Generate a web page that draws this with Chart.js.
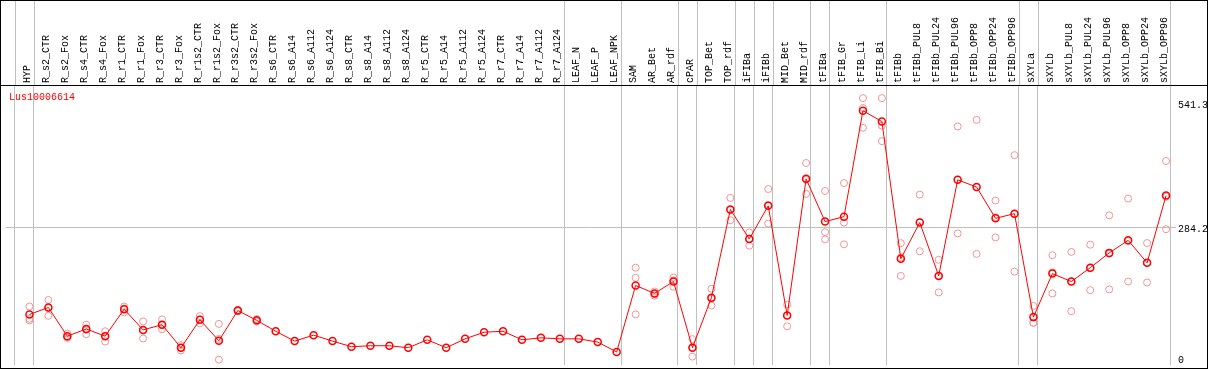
<!DOCTYPE html>
<html>
<head>
<meta charset="utf-8">
<script src="https://cdn.jsdelivr.net/npm/chart.js@4.4.1/dist/chart.umd.min.js"></script>
<style>
  html, body { margin: 0; padding: 0; background: #fff; }
  #wrap { width: 1209px; height: 370px; }
</style>
</head>
<body>
<div id="wrap"><canvas id="chart"></canvas></div>
<script>
// ===== DATA =====
const geneName = 'Lus10006614';

const categories = [
    'HYP', 'R_s2_CTR', 'R_s2_Fox', 'R_s4_CTR', 'R_s4_Fox', 'R_r1_CTR', 'R_r1_Fox', 'R_r3_CTR', 'R_r3_Fox',
    'R_r1s2_CTR', 'R_r1s2_Fox', 'R_r3s2_CTR', 'R_r3s2_Fox', 'R_s6_CTR', 'R_s6_A14', 'R_s6_A112', 'R_s6_A124',
    'R_s8_CTR', 'R_s8_A14', 'R_s8_A112', 'R_s8_A124', 'R_r5_CTR', 'R_r5_A14', 'R_r5_A112', 'R_r5_A124',
    'R_r7_CTR', 'R_r7_A14', 'R_r7_A112', 'R_r7_A124', 'LEAF_N', 'LEAF_P', 'LEAF_NPK', 'SAM', 'AR_Bet', 'AR_rdf',
    'cPAR', 'TOP_Bet', 'TOP_rdf', 'iFIBa', 'iFIBb', 'MID_Bet', 'MID_rdf', 'tFIBa', 'tFIB_Gr', 'tFIB_Li', 'tFIB_Bi',
    'tFIBb', 'tFIBb_PUL8', 'tFIBb_PUL24', 'tFIBb_PUL96', 'tFIBb_OPP8', 'tFIBb_OPP24', 'tFIBb_OPP96',
    'sXYLa', 'sXYLb', 'sXYLb_PUL8', 'sXYLb_PUL24', 'sXYLb_PUL96', 'sXYLb_OPP8', 'sXYLb_OPP24', 'sXYLb_OPP96'
];

// mean expression per sample
const means = [
    103.5, 117.9, 58.6, 73.5, 58.6, 114.4, 71.5, 82.4, 34.7, 92.6, 49, 111.7, 91.3, 68.8, 48.4, 60.7, 48.4,
    36.8, 38.8, 38.8, 34.7, 51.1, 34.7, 53.1, 66.8, 68.8, 51.1, 55.2, 53.1, 53.1, 46.4, 25.9, 163.4, 147.1, 171.6,
    34.7, 138.3, 320.8, 259.5, 328.3, 101.5, 384, 295.6, 305.8, 525, 502.6,
    218.6, 293.6, 183.3, 382, 367.1, 302.4, 312,
    98, 188, 171.6, 200.2, 230.9, 256.8, 210.4, 349.4
];

// individual replicates (null = hidden under the mean)
const rep1 = [
    120, 133.4, 64, 82.4, 68.8, 120, 89.2, 93.3, 40, 100, 84, 113, 94, null, null, null, null,
    null, null, null, null, null, null, null, null, null, null, null, null, null, null, null, 200.2, 151, 179.8,
    52.5, 156.7, 344.6, 273.1, 363, 124, 416.8, 359, 375.3, 551, 551,
    251, 351.4, 216.6, 492.4, 506, 339.1, 433.1,
    121.2, 226.1, 232.9, 247.8, 308.5, 343.2, 251.3, 420.9
];
const rep2 = [
    94.6, 117, 57, 72, 58.6, 116, 71, 82.4, 35, 93, 53, 112, 91, null, null, null, null,
    null, null, null, null, null, null, null, null, null, null, null, null, null, null, null, 179.2, 145.7, 174,
    36, 136, 319.5, 260, 330, 101.5, 382, 273.8, 293.6, 530.6, 494,
    221.5, 295, 184, 382.5, 366.5, 305, 311,
    86.4, 190.8, 171.6, 199, 229, 255.6, 210, 347
];
const rep3 = [
    91.3, 100.7, 55, 62.7, 47.6, 108, 53.8, 72.9, 29, 85, 10, 110, 89, null, null, null, null,
    null, null, null, null, null, null, null, null, null, null, null, null, null, null, null, 103.6, 142.4, 160.8,
    16.3, 122, 298.3, 245.8, 291.5, 79, 352.8, 258.8, 248.6, 489.7, 462,
    183.3, 234.3, 149.1, 271.1, 228.8, 262.9, 192,
    86.4, 147.1, 110.3, 153.8, 155.3, 171.6, 169.6, 279.9
];

const yTicks = [0, 284.2, 541.3];
// index of the last sample in each group (separator lines)
const groupEnds = [-1, 0, 28, 31, 34, 35, 37, 38, 39, 41, 42, 45, 52, 53, 60];

// ===== HELPERS =====
const MONO = 'Liberation Mono';
const toPoints = arr => arr.map((v, i) => ({ x: i, y: v })).filter(p => p.y !== null);

const X_MIN = -1.263;
const X_MAX = 60.526;

// ===== FRAME / HEADER PLUGIN =====
const framePlugin = {
    id: 'frame',
    afterDraw(chart) {
        const { ctx, chartArea, scales } = chart;
        ctx.save();
        // separators continue up through the header
        ctx.strokeStyle = '#c0c0c0';
        ctx.lineWidth = 1;
        groupEnds.forEach(g => {
            const px = Math.round(scales.x.getPixelForValue(g + 0.23)) + 0.5;
            ctx.beginPath();
            ctx.moveTo(px, 0);
            ctx.lineTo(px, chartArea.top);
            ctx.stroke();
        });
        // header rule and outer frame
        ctx.strokeStyle = '#000';
        ctx.beginPath();
        ctx.moveTo(0, chartArea.top - 0.5);
        ctx.lineTo(1208, chartArea.top - 0.5);
        ctx.stroke();
        ctx.strokeRect(0.5, 0.5, 1207, 368);
        // gene name
        ctx.fillStyle = '#ff0000';
        ctx.font = '10px "' + MONO + '"';
        ctx.textBaseline = 'middle';
        ctx.fillText(geneName, 9, 97);
        ctx.restore();
    }
};

// ===== CHART =====
const repStyle = {
    type: 'line',
    showLine: false,
    pointRadius: 3.5,
    pointBorderWidth: 1,
    pointBorderColor: '#ef9595',
    pointBackgroundColor: 'rgba(0,0,0,0)',
    order: 2,
    xAxisID: 'x',
    yAxisID: 'y'
};

new Chart(document.getElementById('chart'), {
    type: 'line',
    data: {
        datasets: [
            {
                label: geneName,
                data: toPoints(means),
                borderColor: '#ff0000',
                borderWidth: 1,
                tension: 0,
                pointRadius: 3.5,
                pointBorderWidth: 1.5,
                pointBorderColor: '#ff0000',
                pointBackgroundColor: 'rgba(0,0,0,0)',
                order: 0,
                xAxisID: 'x',
                yAxisID: 'y'
            },
            Object.assign({ label: 'rep1', data: toPoints(rep1) }, repStyle),
            Object.assign({ label: 'rep2', data: toPoints(rep2) }, repStyle),
            Object.assign({ label: 'rep3', data: toPoints(rep3) }, repStyle)
        ]
    },
    options: {
        responsive: true,
        maintainAspectRatio: false,
        animation: false,
        events: [],
        layout: { padding: { left: 2, right: 0, top: 0, bottom: 2 } },
        plugins: {
            legend: { display: false },
            tooltip: { enabled: false }
        },
        scales: {
            x: {
                type: 'linear',
                position: 'bottom',
                min: X_MIN,
                max: X_MAX,
                afterBuildTicks: s => { s.ticks = groupEnds.map(g => ({ value: g + 0.23 })); },
                afterFit: s => { s.height = 0; s.paddingLeft = 0; s.paddingRight = 0; },
                ticks: { display: false },
                grid: { color: '#c0c0c0', lineWidth: 1, drawTicks: false },
                border: { display: false }
            },
            xTop: {
                type: 'linear',
                position: 'top',
                min: X_MIN,
                max: X_MAX,
                afterBuildTicks: s => { s.ticks = categories.map((c, i) => ({ value: i })); },
                afterFit: s => { s.height = 86; s.paddingLeft = 0; s.paddingRight = 0; },
                ticks: {
                    autoSkip: false,
                    minRotation: 90,
                    maxRotation: 90,
                    padding: 3,
                    labelOffset: 10,
                    color: '#000',
                    font: { family: MONO, size: 10 },
                    callback: v => categories[v]
                },
                grid: { display: false, drawTicks: false },
                border: { display: false }
            },
            y: {
                position: 'right',
                min: 0,
                max: 576.1,
                afterBuildTicks: s => { s.ticks = yTicks.map(v => ({ value: v })); },
                afterFit: s => { s.width = 33; s.paddingTop = 0; s.paddingBottom = 0; },
                ticks: {
                    padding: 2,
                    labelOffset: -1,
                    color: '#000',
                    font: { family: MONO, size: 10, lineHeight: 0.7 },
                    callback: v => v === 0 ? ['0', ''] : ['', String(v)]
                },
                grid: {
                    color: c => (c.tick && c.tick.value === 284.2) ? '#c0c0c0' : 'rgba(0,0,0,0)',
                    drawTicks: false
                },
                border: { display: false }
            }
        }
    },
    plugins: [framePlugin]
});
</script>
</body>
</html>
